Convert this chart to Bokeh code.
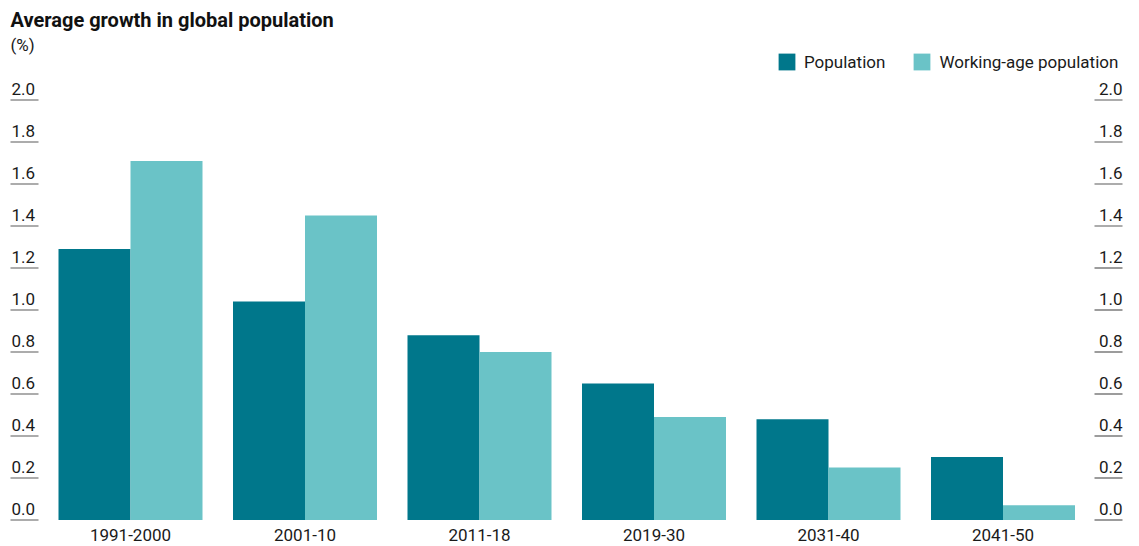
from bokeh.plotting import figure
from bokeh.models import Range1d, Label, ColumnDataSource, Legend, LegendItem
from bokeh.core.properties import value
from bokeh.transform import dodge
from bokeh.embed import file_html
from bokeh.resources import INLINE

# ---- data ----
categories = ["1991-2000", "2001-10", "2011-18", "2019-30", "2031-40", "2041-50"]
population = [1.29, 1.04, 0.88, 0.65, 0.48, 0.30]
working_age = [1.71, 1.45, 0.80, 0.49, 0.25, 0.07]
series_names = ["Population", "Working-age population"]
y_ticks = [0.0, 0.2, 0.4, 0.6, 0.8, 1.0, 1.2, 1.4, 1.6, 1.8, 2.0]
y_tick_labels = ["0.0", "0.2", "0.4", "0.6", "0.8", "1.0", "1.2", "1.4", "1.6", "1.8", "2.0"]
title_text = "Average growth in global population"
unit_text = "(%)"

# ---- styles / layout ----
colors = ["#00778b", "#6ac3c7"]
text_color = "#1a1a1a"
tick_line_color = "#5a5a5a"
FONT = "Roboto"
FS = "17px"

W, H = 1139, 546
unit_px = 174.5      # pixels per category
first_center_px = 130.0
ypx = 210.0          # pixels per 1.0 of value
y0_px = 519.5        # pixel row of zero (from top)

x_start = -first_center_px / unit_px
x_end = (W - first_center_px) / unit_px
y_start = -(H - y0_px) / ypx
y_end = y0_px / ypx

def xdata(px):
    return x_start + px / unit_px

bar_w = 72.0 / unit_px

p = figure(width=W, height=H, x_range=Range1d(x_start, x_end),
           y_range=Range1d(y_start, y_end), output_backend="svg",
           toolbar_location=None, min_border=0, x_axis_type=None,
           y_axis_type=None, background_fill_color="white",
           border_fill_color="white")
p.outline_line_color = None

src = ColumnDataSource(dict(x=list(range(len(categories))), cat=categories,
                            pop=population, wa=working_age))

r1 = p.vbar(x=dodge("x", -bar_w / 2, range=p.x_range), top="pop", bottom=0,
            width=bar_w, source=src, fill_color=colors[0], line_color=None)
r2 = p.vbar(x=dodge("x", bar_w / 2, range=p.x_range), top="wa", bottom=0,
            width=bar_w, source=src, fill_color=colors[1], line_color=None)

# category labels
p.text(x="x", y=-14.5 / ypx, text="cat", source=src, text_align="center",
       text_baseline="middle", text_font=value(FONT),
       text_font_size=FS, text_color=text_color)

# tick underlines and labels (both sides)
tsrc = ColumnDataSource(dict(y=y_ticks, ylab=[t + 11.5 / ypx for t in y_ticks],
                             lab=y_tick_labels))
p.segment(x0=xdata(10), x1=xdata(38), y0="y", y1="y", source=tsrc,
          line_color=tick_line_color, line_width=1.2)
p.segment(x0=xdata(1094), x1=xdata(1122), y0="y", y1="y", source=tsrc,
          line_color=tick_line_color, line_width=1.2)
p.text(x=xdata(11), y="ylab", text="lab", source=tsrc, text_align="left",
       text_baseline="middle", text_font=value(FONT),
       text_font_size=FS, text_color=text_color)
p.text(x=xdata(1122), y="ylab", text="lab", source=tsrc, text_align="right",
       text_baseline="middle", text_font=value(FONT),
       text_font_size=FS, text_color=text_color)

# title and unit
p.add_layout(Label(x=10, y=H - 19, x_units="screen", y_units="screen",
                   text=title_text, text_font=FONT, text_font_size="20px",
                   text_font_style="bold", text_color="#111111",
                   text_baseline="middle"))
p.add_layout(Label(x=10, y=H - 44.5, x_units="screen", y_units="screen",
                   text=unit_text, text_font=FONT, text_font_size=FS,
                   text_color=text_color, text_baseline="middle"))

# legend
legend = Legend(items=[LegendItem(label=series_names[0], renderers=[r1]),
                       LegendItem(label=series_names[1], renderers=[r2])],
                location=(776, H - 72), orientation="horizontal",
                glyph_width=21, glyph_height=21, label_standoff=7,
                spacing=26, padding=0, margin=0, border_line_color=None,
                background_fill_alpha=0, label_text_font=FONT,
                label_text_font_size=FS, label_text_color=text_color,
                label_height=21)
p.add_layout(legend)

open("out.html", "w").write(file_html(p, INLINE))
